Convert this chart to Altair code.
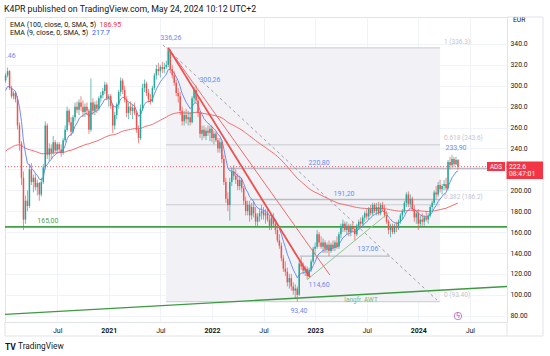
import altair as alt
import numpy as np
import pandas as pd

# ---------------- data (weekly candles, ADS, EUR) ----------------
FIRST_WEEK = "2020-01-06"
OPEN = [305,310,314,298,290,293,287,262,245,212,
        172,190,185,220,208,212,203,207,196,208,
        222,262,234,240,236,246,238,244,239,236,
        248,258,276,265,256,270,280,277,284,280,
        275,280,276,258,284,276,282,278,288,291,
        295,301,288,290,281,262,272,282,294,305,
        296,287,274,280,276,279,274,258,250,278,
        298,302,293,287,285,298,310,316,314,318,
        316,318,320,334,316,310,303,293,290,276,
        266,272,268,270,265,288,296,286,274,254,
        258,252,257,255,259,250,254,248,240,246,
        230,208,192,186,208,218,214,210,204,210,
        202,190,180,186,176,184,178,170,175,178,
        180,176,178,172,166,174,168,162,152,147,
        135,125,122,112,116,108,104,106,100,130,
        127,123,125,118,124,132,144,146,158,150,
        146,150,144,148,142,148,145,150,146,158,
        164,168,162,166,160,165,163,158,166,170,
        168,174,178,175,182,178,186,180,184,178,
        186,182,176,170,162,165,160,166,164,170,
        176,180,188,196,187,192,182,174,178,168,
        172,170,174,172,176,184,188,198,196,205,
        201,204,206,202,227,224,230,225,229]
HIGH = [312,317.5,315,300,295,295,290,265,247,218,
        195,200,225,226,215,216,210,208,212,225,
        266,264,245,244,252,248,246,246,244,250,
        262,280,278,270,272,284,285,287,290,286,
        283,284,278,307,288,285,286,290,294,298,
        304,303,292,292,283,275,284,296,308,307,
        300,290,284,285,282,284,276,262,282,302,
        306,304,297,292,300,312,320,322,320,323,
        322,324,336.26,335,320,314,306,298,294,280,
        276,278,276,275,290,299,300.26,289,276,262,
        262,260,262,262,262,257,256,250,250,248,
        234,212,198,212,222,224,220,216,214,212,
        204,194,190,190,188,190,184,178,182,186,
        184,182,183,176,176,178,172,166,158,150,
        138,132,126,120,120,112,110,108,133,136,
        131,128,127,126,134,146,150,162,160,156,
        154,152,150,152,150,152,152,156,160,168,
        172,170,170,168,168,170,166,168,172,174,
        176,180,182,184,186,188,188,188,189,188,
        189,186,180,172,168,168,168,170,172,178,
        182,190,198,199,196,194,186,180,182,176,
        178,176,180,178,186,190,200,204,208,210,
        206,210,212,229,232,233.9,232,232,230]
LOW = [303,308,296,288,287,284,258,238,205,162,
       168,180,183,205,198,200,195,190,194,206,
       220,230,228,230,234,236,235,236,232,234,
       246,256,262,252,254,266,274,272,276,270,
       270,272,254,256,272,272,274,276,284,288,
       292,286,280,278,255,258,268,278,290,292,
       284,270,268,272,268,272,255,245,248,276,
       294,290,284,282,284,296,306,310,308,312,
       312,316,318,312,307,300,290,284,272,262,
       262,264,262,262,264,284,284,270,250,248,
       250,248,252,247,246,244,246,236,236,226,
       205,188,180,171,204,210,206,200,200,198,
       186,176,176,170,172,174,166,165,170,172,
       172,168,170,162,162,165,158,150,144,132,
       122,118,108,106,104,100,97,93.4,99,124,
       120,118,114.6,116,122,130,138,144,146,144,
       140,140,140,137.06,140,142,142,144,144,154,
       160,160,158,156,156,160,152,156,162,164,
       166,170,172,172,176,176,178,176,176,176,
       180,174,168,158,155,158,158,160,162,168,
       172,178,184,184,184,180,170,168,162,164,
       166,166,170,168,174,180,186,192,194,198,
       196,200,200,200,220,222,222,224,220]
CLOSE = [310,314,298,290,293,287,262,245,212,172,
         190,185,220,208,212,203,207,196,208,222,
         262,234,240,236,246,238,244,239,236,248,
         258,276,265,256,270,280,277,284,280,275,
         280,276,258,284,276,282,278,288,291,295,
         301,288,290,281,262,272,282,294,305,296,
         287,274,280,276,279,274,258,250,278,298,
         302,293,287,285,298,310,316,314,318,316,
         318,320,334,316,310,303,293,290,276,266,
         272,268,270,265,288,296,286,274,254,258,
         252,257,255,259,250,254,248,240,246,230,
         208,192,186,208,218,214,210,204,210,202,
         190,180,186,176,184,178,170,175,178,180,
         176,178,172,166,174,168,162,152,147,135,
         125,122,112,116,108,104,106,100,130,127,
         123,125,118,124,132,144,146,158,150,146,
         150,144,148,142,148,145,150,146,158,164,
         168,162,166,160,165,163,158,166,170,168,
         174,178,175,182,178,186,180,184,178,186,
         182,176,170,162,165,160,166,164,170,176,
         180,188,196,187,192,182,174,178,168,172,
         170,174,172,176,184,188,198,196,205,201,
         204,206,202,227,224,230,225,229,222.6]
assert len(OPEN) == len(HIGH) == len(LOW) == len(CLOSE), (len(OPEN), len(HIGH), len(LOW), len(CLOSE))

# EMA settings and starting values at its left edge
EMA_SLOW_PERIOD, EMA_SLOW_START = 100, 236.0
EMA_FAST_PERIOD, EMA_FAST_START = 9, 292.0
LAST_PRICE = 222.6
SUPPORT_LEVEL = 165.0

# Fibonacci retracement drawing
FIB_START, FIB_END = "2021-07-25", "2024-03-18"
FIB_LEVELS = [336.26, 243.49, 186.17, 93.40]
FIB_TEXT = ["1 (336.3)", "0.618 (243.6)", "0.382 (186.2)", "0 (93.40)"]
FIB_TEXT_DATE = "2024-04-01"
FIB_TEXT_PRICE = [342.2, 250.0, 193.6, 99.8]

# horizontal level lines
LEVEL_PRICE = [220.80, 191.20, 137.06]
LEVEL_START = ["2022-03-01", "2022-05-17", "2022-11-09"]
LEVEL_END = ["2024-08-30", "2024-03-18", "2023-09-23"]

# price annotations
TAG_TEXT = ["336,26", "300,26", "220,80", "191,20", "137,06", "114,60", "93,40", "233,90"]
TAG_DATE = ["2021-08-11", "2021-12-27", "2023-01-16", "2023-04-14", "2023-07-07",
            "2023-01-16", "2022-11-06", "2024-05-13"]
TAG_PRICE = [345.7, 305.6, 226.1, 196.5, 143.8, 109.4, 85.0, 240.5]

# trend lines: (dates, prices)
RED_THICK = (["2021-08-02", "2022-12-15"], [336.26, 117.0])
RED_THIN = (["2021-08-02", "2023-02-23"], [336.26, 119.0])
GRAY_DASH = (["2021-07-14", "2024-03-07"], [339.0, 95.0])
GREEN_SUPPORT = (["2022-12-05", "2023-09-18"], [114.6, 178.3])
GREEN_LONG = (["2020-01-04", "2024-11-09"], [81.3, 108.0])

X_TICKS = [(2020, 7, 6), (2021, 1, 4), (2021, 7, 5), (2022, 1, 3), (2022, 7, 4),
           (2023, 1, 2), (2023, 7, 3), (2024, 1, 1), (2024, 7, 1)]
Y_TICKS = list(range(80, 341, 20))

# ---------------- frames ----------------
dates = pd.date_range(FIRST_WEEK, periods=len(CLOSE), freq="7D")
candles = pd.DataFrame({
    "date": dates.strftime("%Y-%m-%d"),
    "open": OPEN, "high": HIGH, "low": LOW, "close": CLOSE,
})
candles["dir"] = np.where(candles["close"] >= candles["open"], "up", "down")


def ema(values, period, start):
    a = 2.0 / (period + 1)
    out, prev = [], start
    for v in values:
        prev = prev + a * (v - prev)
        out.append(prev)
    return out


candles["ema_slow"] = ema(CLOSE, EMA_SLOW_PERIOD, EMA_SLOW_START)
candles["ema_fast"] = ema(CLOSE, EMA_FAST_PERIOD, EMA_FAST_START)

FONT = "Roboto"
TXT = "#131722"

xs = alt.Scale(type="utc", domain=[
    alt.DateTime(year=2020, month=1, date=3, hours=21, utc=True),
    alt.DateTime(year=2024, month=11, date=9, utc=True)])
ys = alt.Scale(domain=[74.0, 365.8], nice=False, zero=False)

x_axis = alt.Axis(
    values=[alt.DateTime(year=y, month=m, date=d, utc=True) for y, m, d in X_TICKS],
    labelExpr="utcmonth(datum.value) === 0 ? utcFormat(datum.value, '%Y') : 'Jul'",
    labelFontWeight={"condition": {"test": "utcmonth(datum.value) === 0", "value": "bold"}, "value": "normal"},
    labelFontSize=7, labelColor=TXT, labelFont=FONT, labelPadding=4,
    ticks=False, domain=False, gridColor="#f0f3fa", gridWidth=1, title=None)
y_axis = alt.Axis(
    orient="right", values=Y_TICKS,
    labelExpr="datum.value == 220 ? '' : (datum.value >= 240 ? format(datum.value, '.1f') : format(datum.value, '.2f'))",
    labelFontSize=6.8, labelColor=TXT, labelFont=FONT, labelPadding=3,
    ticks=False, domain=False, gridColor="#f0f3fa", gridWidth=1, title=None)


def X(field):
    return alt.X(field, type="temporal", scale=xs, axis=x_axis, title=None)


def Y(field):
    return alt.Y(field, type="quantitative", scale=ys, axis=y_axis, title=None)


layers = []

# fib background
fib_box = pd.DataFrame({"start": [FIB_START], "end": [FIB_END],
                        "top": [FIB_LEVELS[0]], "bottom": [FIB_LEVELS[-1]]})
layers.append(alt.Chart(fib_box).mark_rect(color="#f2f2f6").encode(
    x=X("start"), x2="end:T", y=Y("top"), y2="bottom:Q"))

fib_lines = pd.DataFrame({"start": FIB_START, "end": FIB_END, "price": FIB_LEVELS})
layers.append(alt.Chart(fib_lines).mark_rule(color="#c9cbd2", strokeWidth=1).encode(
    x=X("start"), x2="end:T", y=Y("price")))

fib_lab = pd.DataFrame({"date": FIB_TEXT_DATE, "price": FIB_TEXT_PRICE, "text": FIB_TEXT})
layers.append(alt.Chart(fib_lab).mark_text(align="left", baseline="middle", font=FONT,
                                           fontSize=6.5, color="#c3c6ce").encode(
    x=X("date"), y=Y("price"), text="text:N"))

# level lines
levels = pd.DataFrame({"start": LEVEL_START, "end": LEVEL_END, "price": LEVEL_PRICE})
layers.append(alt.Chart(levels).mark_rule(color="#b9bcc4", strokeWidth=1.4).encode(
    x=X("start"), x2="end:T", y=Y("price")))

# 165 support line and last price line
layers.append(alt.Chart(pd.DataFrame({"price": [SUPPORT_LEVEL]})).mark_rule(
    color="#43a047", strokeWidth=1.6).encode(y=Y("price")))
layers.append(alt.Chart(pd.DataFrame({"price": [LAST_PRICE]})).mark_rule(
    color="#f23645", strokeWidth=0.8, strokeDash=[1, 2]).encode(y=Y("price")))

# EMAs
layers.append(alt.Chart(candles).mark_line(color="#f26b6b", strokeWidth=1).encode(
    x=X("date"), y=Y("ema_slow")))
layers.append(alt.Chart(candles).mark_line(color="#6a8ef5", strokeWidth=1).encode(
    x=X("date"), y=Y("ema_fast")))

# candles
ccol = alt.Color("dir:N", scale=alt.Scale(domain=["up", "down"], range=["#26a69a", "#ef5350"]), legend=None)
layers.append(alt.Chart(candles).mark_rule(strokeWidth=0.7).encode(
    x=X("date"), y=Y("low"), y2="high:Q", color=ccol))
layers.append(alt.Chart(candles).mark_rule(strokeWidth=1.5).encode(
    x=X("date"), y=Y("open"), y2="close:Q", color=ccol))


def line_df(name, pts):
    return pd.DataFrame({"id": name, "date": pts[0], "price": pts[1]})


layers.append(alt.Chart(line_df("long", GREEN_LONG)).mark_line(
    color="#3d9a41", strokeWidth=1.4, clip=True).encode(x=X("date"), y=Y("price")))
layers.append(alt.Chart(line_df("support", GREEN_SUPPORT)).mark_line(
    color="#8bc78e", strokeWidth=1).encode(x=X("date"), y=Y("price")))
layers.append(alt.Chart(line_df("dash", GRAY_DASH)).mark_line(
    color="#9ea1a9", strokeWidth=1, strokeDash=[3, 3]).encode(x=X("date"), y=Y("price")))
layers.append(alt.Chart(line_df("thin", RED_THIN)).mark_line(
    color="#f06a6a", strokeWidth=1).encode(x=X("date"), y=Y("price")))
layers.append(alt.Chart(line_df("thick", RED_THICK)).mark_line(
    color="#ef4f4f", strokeWidth=1.8).encode(x=X("date"), y=Y("price")))

# price tags
tags = pd.DataFrame({"date": TAG_DATE, "price": TAG_PRICE, "text": TAG_TEXT})
layers.append(alt.Chart(tags).mark_text(baseline="middle", font=FONT, fontSize=7,
                                        color="#6a8df2").encode(
    x=X("date"), y=Y("price"), text="text:N"))
layers.append(alt.Chart(pd.DataFrame({"date": ["2020-06-03"], "price": [170.6], "text": ["165,00"]}))
              .mark_text(baseline="middle", font=FONT, fontSize=7, color="#4f9f53").encode(
    x=X("date"), y=Y("price"), text="text:N"))
layers.append(alt.Chart(pd.DataFrame({"date": ["2023-06-13"], "price": [95.0], "text": ["langfr. AWT"]}))
              .mark_text(baseline="middle", font=FONT, fontSize=6.5, color="#7cb87f").encode(
    x=X("date"), y=Y("price"), text="text:N"))
# tail of the "317,46" tag that is cut by the left edge in the original
layers.append(alt.Chart(pd.DataFrame({"date": ["2020-01-07"], "price": [328.5], "text": [".46"]}))
              .mark_text(align="left", baseline="middle", font=FONT, fontSize=7, color="#6a8df2"
                         ).encode(x=X("date"), y=Y("price"), text="text:N"))

# event marker
layers.append(alt.Chart(pd.DataFrame({"date": ["2024-05-20"], "price": [79.7]})).mark_point(
    shape="circle", filled=False, color="#ab47bc", size=55, strokeWidth=1).encode(
    x=X("date"), y=Y("price")))
layers.append(alt.Chart(pd.DataFrame({"date": ["2024-05-20"], "price": [79.7], "text": ["ϟ"]})).mark_text(
    font="DejaVu Sans", fontSize=7, color="#ab47bc", baseline="middle").encode(
    x=X("date"), y=Y("price"), text="text:N"))

# ---------------- chrome (header, legend, price scale labels) ----------------
one = pd.DataFrame({"a": [0]})


def ptext(text, x, y, size=7, color=TXT, weight="normal", align="left"):
    return alt.Chart(one).mark_text(text=text, align=align, baseline="middle", font=FONT,
                                    fontSize=size, color=color, fontWeight=weight).encode(
        x=alt.value(x), y=alt.value(y))


def prect(x, x2, y, y2, color):
    return alt.Chart(one).mark_rect(color=color).encode(
        x=alt.value(x), x2=alt.value(x2), y=alt.value(y), y2=alt.value(y2))


def prule(x, x2, y, y2, color="#e0e3eb"):
    return alt.Chart(one).mark_rule(color=color, strokeWidth=1).encode(
        x=alt.value(x), x2=alt.value(x2), y=alt.value(y), y2=alt.value(y2))


layers += [
    ptext("K4PR published on TradingView.com, May 24, 2024 10:12 UTC+2", -1, -7.7, size=8.8),
    ptext("EMA (100, close, 0, SMA, 5)", 5, 7.7, size=7.1),
    ptext("186.95", 94.5, 7.7, size=7.1, color="#f23645"),
    ptext("EMA (9, close, 0, SMA, 5)", 5, 15.7, size=7.1),
    ptext("217.7", 87, 15.7, size=7.1, color="#2962ff"),
    ptext("EUR", 508, 3, size=6.8),
    prule(502, 538, 0, 0), prule(538, 538, 0, 319), prule(0, 538, 319, 319),
    prule(0, 0, 305, 319), prule(502, 502, 305, 319),
    prect(482, 500, 145, 154, "#f23645"),
    ptext("ADS", 491, 149.5, size=6.3, color="white", align="center"),
    prect(501.5, 538, 144.5, 162, "#f23645"),
    ptext("222.6", 504, 149.5, size=6.8, color="white"),
    ptext("08:47:01", 504, 157, size=6.8, color="white"),
    ptext("TV", 0, 329.5, size=8.5, weight="bold"),
    ptext("TradingView", 13, 329.5, size=8.3),
]

chart = alt.layer(*layers).properties(
    width=502, height=305,
    autosize=alt.AutoSizeParams(type="none"),
    padding={"left": 5, "top": 17, "right": 43, "bottom": 34},
    background="white",
).configure_view(stroke="#e0e3eb", strokeWidth=1)

chart.save("out.html", embed_options={"renderer": "svg", "actions": False})
